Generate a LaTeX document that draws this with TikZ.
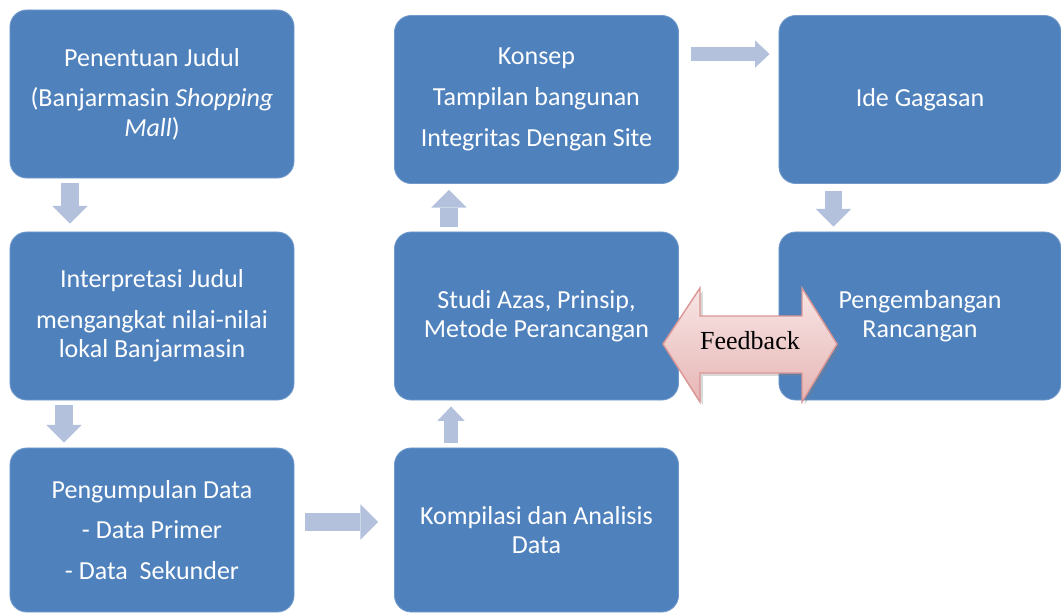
\documentclass[tikz,border=0pt]{standalone}
\usepackage{fontspec}
\setmainfont{Carlito}
\newfontfamily\fbfont{Liberation Serif}
\usetikzlibrary{positioning,calc,arrows.meta,shadows}
\definecolor{boxblue}{RGB}{79,129,189}
\definecolor{arrblue}{RGB}{179,193,221}
\definecolor{fbtop}{RGB}{248,229,229}
\definecolor{fbbot}{RGB}{230,182,181}
\definecolor{fbedge}{RGB}{218,150,148}

\begin{document}
\begin{tikzpicture}[x=0.025cm,y=-0.025cm,
  stage/.style={rectangle, rounded corners=0.42cm, fill=boxblue,
    draw=boxblue!80!white, line width=0.6pt, text=white, align=center,
    minimum width=7.1cm, minimum height=4.2cm, inner sep=0pt,
    font=\fontsize{18.5}{21}\selectfont},
  blockarr/.style={draw=arrblue, line width=0.44cm,
    -{Triangle[length=0.44cm, width=0.88cm, line width=0pt]}},
  thinarr/.style={draw=arrblue, line width=0.35cm,
    -{Triangle[length=0.36cm, width=0.68cm, line width=0pt]}},
  feedback/.style={top color=fbtop, bottom color=fbbot, draw=fbedge,
    line width=1pt, line join=miter,
    drop shadow={opacity=0.3, shadow xshift=2pt, shadow yshift=-2pt}}]
\useasboundingbox (0,0) rectangle (1061,613);

% boxes
\node[stage] (judul) at (152,94) {Penentuan Judul\\[8pt](Banjarmasin \textit{Shopping}\\\textit{Mall})};
\node[stage] (interp) at (152,316) {Interpretasi Judul\\[8pt]mengangkat nilai-nilai\\lokal Banjarmasin};
\node[stage, minimum height=4.1cm] (data) at (152,530) {Pengumpulan Data\\[8pt]- Data Primer\\[8pt]- Data\ \ Sekunder};
\node[stage, minimum height=4.1cm] (kompil) at (536.5,530) {Kompilasi dan Analisis\\Data};
\node[stage] (studi) at (536.5,316) {Studi Azas, Prinsip,\\Metode Perancangan};
\node[stage] (konsep) at (536.5,99.5) {Konsep\\[8pt]Tampilan bangunan\\[8pt]Integritas Dengan Site};
\node[stage, minimum width=7.05cm] (ide) at (920,99.5) {Ide Gagasan};
\node[stage, minimum width=7.05cm] (kembang) at (920,316) {Pengembangan\\Rancangan};

% arrows
\draw[blockarr] ($(judul.south west)+(60.5,5)$) -- ($(interp.north west)+(60.5,-8)$);
\draw[blockarr] ($(interp.south west)+(54.5,5)$) -- ($(data.north west)+(54.5,-5)$);
\draw[blockarr] ($(data.east)+(11,-8)$) -- ($(kompil.west)+(-16,-8)$);
\draw[thinarr] ($(kompil.north west)+(57,-5)$) -- ($(studi.south west)+(57,6)$);
\draw[blockarr] ($(studi.north west)+(55,-5)$) -- ($(konsep.south west)+(55,6)$);
\draw[thinarr] ($(konsep.north east)+(12,39)$) -- ($(ide.north west)+(-9,39)$);
\draw[blockarr] ($(ide.south west)+(55,7.5)$) -- ($(kembang.north west)+(55,-5)$);

% feedback
\draw[feedback] (663,344) -- (700,288) -- (700,316) -- (802,316) -- (802,288) -- (837,344)
  -- (802,402) -- (802,373) -- (700,373) -- (700,402) -- cycle;
\node[font=\fbfont\fontsize{18.5}{21}\selectfont] (fb) at (750,341) {Feedback};
\end{tikzpicture}
\end{document}
